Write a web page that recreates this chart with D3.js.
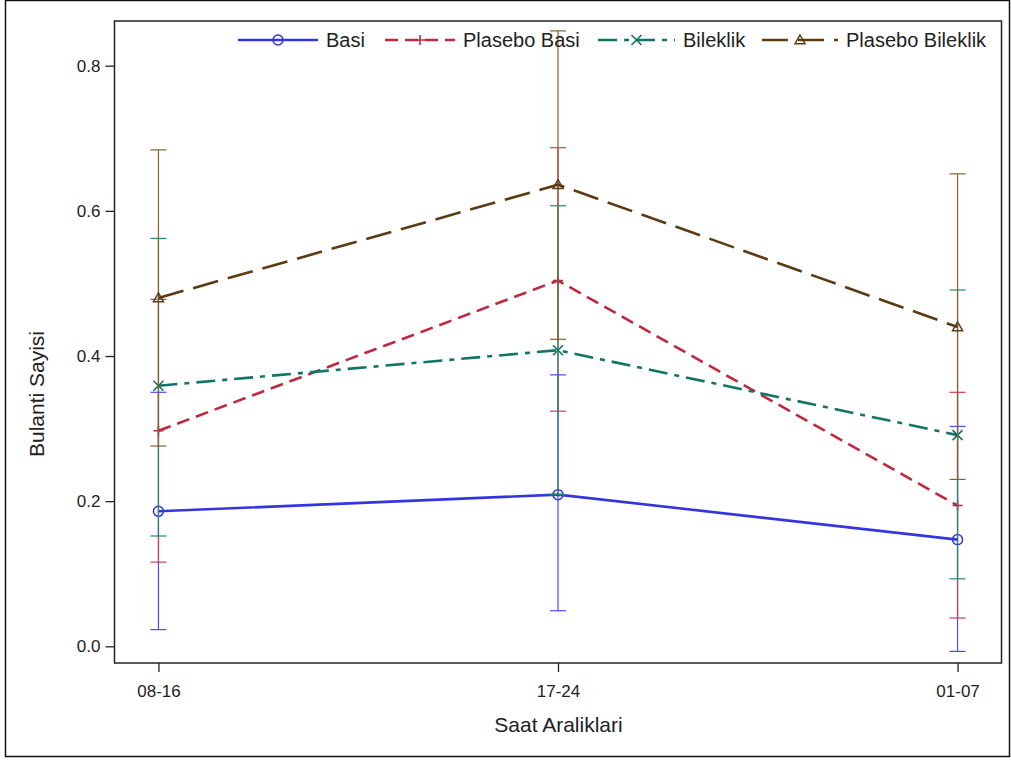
<!DOCTYPE html>
<html><head><meta charset="utf-8">
<script src="https://cdn.jsdelivr.net/npm/d3@7/dist/d3.min.js"></script>
<style>body{margin:0;background:#fff}svg{display:block}text{font-family:"Liberation Sans",Arial,sans-serif;fill:#222}</style>
</head><body><svg id="c" width="1011" height="760"></svg>
<script>
const categories = ["08-16", "17-24", "01-07"];
const seriesNames = ["Basi", "Plasebo Basi", "Bileklik", "Plasebo Bileklik"];
const basiMean = [0.186, 0.209, 0.147];
const basiLow = [0.023, 0.049, -0.007];
const basiHigh = [0.350, 0.374, 0.303];
const plBasiMean = [0.297, 0.504, 0.194];
const plBasiLow = [0.116, 0.324, 0.039];
const plBasiHigh = [0.478, 0.687, 0.350];
const bilMean = [0.359, 0.408, 0.291];
const bilLow = [0.152, 0.209, 0.093];
const bilHigh = [0.562, 0.607, 0.491];
const plBilMean = [0.480, 0.636, 0.440];
const plBilLow = [0.276, 0.423, 0.230];
const plBilHigh = [0.684, 0.848, 0.651];
const yTicks = [0.0, 0.2, 0.4, 0.6, 0.8];

const series = [
  {name: seriesNames[0], mean: basiMean, lo: basiLow, hi: basiHigh, color: "#3535e0", bar: "#4a4aff", dash: null, marker: "circle"},
  {name: seriesNames[1], mean: plBasiMean, lo: plBasiLow, hi: plBasiHigh, color: "#c0283f", bar: "#d03a50", dash: "13,7", marker: "plus"},
  {name: seriesNames[2], mean: bilMean, lo: bilLow, hi: bilHigh, color: "#107566", bar: "#1f8a7a", dash: "19,7,5,7", marker: "x"},
  {name: seriesNames[3], mean: plBilMean, lo: plBilLow, hi: plBilHigh, color: "#5c3a12", bar: "#8a5f2e", dash: "26,10", marker: "triangle"}
];

const svg = d3.select("#c");
const L = 114.5, R = 1001.5, T = 21, B = 663;
const x = d3.scalePoint().domain(categories).range([L, R]).padding(0.11);
const y = d3.scaleLinear().domain([-0.023, 0.8616]).range([B, T]);

// outer border
svg.append("rect").attr("x", 5.5).attr("y", 0.5).attr("width", 1004).attr("height", 756)
  .attr("fill", "none").attr("stroke", "#111").attr("stroke-width", 1.5);

// axes
const yAxis = svg.append("g").attr("transform", `translate(${L},0)`)
  .call(d3.axisLeft(y).tickValues(yTicks).tickFormat(d3.format(".1f")).tickSize(9).tickPadding(5));
const xAxis = svg.append("g").attr("transform", `translate(0,${B})`)
  .call(d3.axisBottom(x).tickSize(9).tickPadding(13));
[yAxis, xAxis].forEach(g => {
  g.select(".domain").remove();
  g.selectAll(".tick line").attr("stroke", "#222").attr("stroke-width", 1.3);
  g.selectAll("text").attr("font-size", 17).attr("fill", "#222").style("font-family", '"Liberation Sans",Arial,sans-serif');
});

// plot frame
svg.append("rect").attr("x", L).attr("y", T).attr("width", R - L).attr("height", B - T)
  .attr("fill", "none").attr("stroke", "#222").attr("stroke-width", 1.5);

// axis labels
svg.append("text").attr("x", (L + R) / 2 + 0.5).attr("y", 732).attr("text-anchor", "middle")
  .attr("font-size", 21).text("Saat Araliklari");
svg.append("text").attr("transform", `translate(44,${(T + B) / 2 + 52}) rotate(-90)`).attr("text-anchor", "middle")
  .attr("font-size", 21).text("Bulanti Sayisi");

const plot = svg.append("g");
function marker(g, type, cx, cy, color, s) {
  if (type === "circle") g.append("circle").attr("cx", cx).attr("cy", cy).attr("r", 5).attr("fill", "none").attr("stroke", color).attr("stroke-width", 1.5);
  else if (type === "plus") g.append("path").attr("d", `M${cx - s},${cy}H${cx + s}M${cx},${cy - s}V${cy + s}`).attr("stroke", color).attr("stroke-width", 1.6);
  else if (type === "x") g.append("path").attr("d", `M${cx - s},${cy - s}L${cx + s},${cy + s}M${cx - s},${cy + s}L${cx + s},${cy - s}`).attr("stroke", color).attr("stroke-width", 1.6);
  else if (type === "triangle") g.append("path").attr("d", `M${cx},${cy - s}L${cx + s},${cy + s * 0.75}L${cx - s},${cy + s * 0.75}Z`).attr("fill", "none").attr("stroke", color).attr("stroke-width", 1.5);
}

series.forEach(s => {
  const g = plot.append("g");
  categories.forEach((c, i) => {
    const cx = x(c);
    g.append("line").attr("x1", cx).attr("x2", cx).attr("y1", y(s.lo[i])).attr("y2", y(s.hi[i]))
      .attr("stroke", s.bar).attr("stroke-width", 1.2);
    [s.lo[i], s.hi[i]].forEach(v => {
      g.append("line").attr("x1", cx - 8).attr("x2", cx + 8).attr("y1", y(v)).attr("y2", y(v))
        .attr("stroke", s.bar).attr("stroke-width", 1.2);
    });
  });
  const line = d3.line().x((d, i) => x(categories[i])).y(d => y(d));
  g.append("path").attr("d", line(s.mean)).attr("fill", "none").attr("stroke", s.color)
    .attr("stroke-width", 2.6).attr("stroke-dasharray", s.dash);
  categories.forEach((c, i) => marker(g, s.marker, x(c), y(s.mean[i]), s.color, 5));
});

// legend
const legX = [238, 385, 598, 762];
const legW = [80, 70, 77, 76];
const ly = 40;
series.forEach((s, i) => {
  const g = svg.append("g");
  g.append("line").attr("x1", legX[i]).attr("x2", legX[i] + legW[i]).attr("y1", ly).attr("y2", ly)
    .attr("stroke", s.color).attr("stroke-width", 2.6).attr("stroke-dasharray", s.dash);
  marker(g, s.marker, legX[i] + legW[i] / 2, ly, s.color, 5);
  g.append("text").attr("x", legX[i] + legW[i] + 8).attr("y", ly + 7).attr("font-size", 20).text(s.name);
});
</script></body></html>
